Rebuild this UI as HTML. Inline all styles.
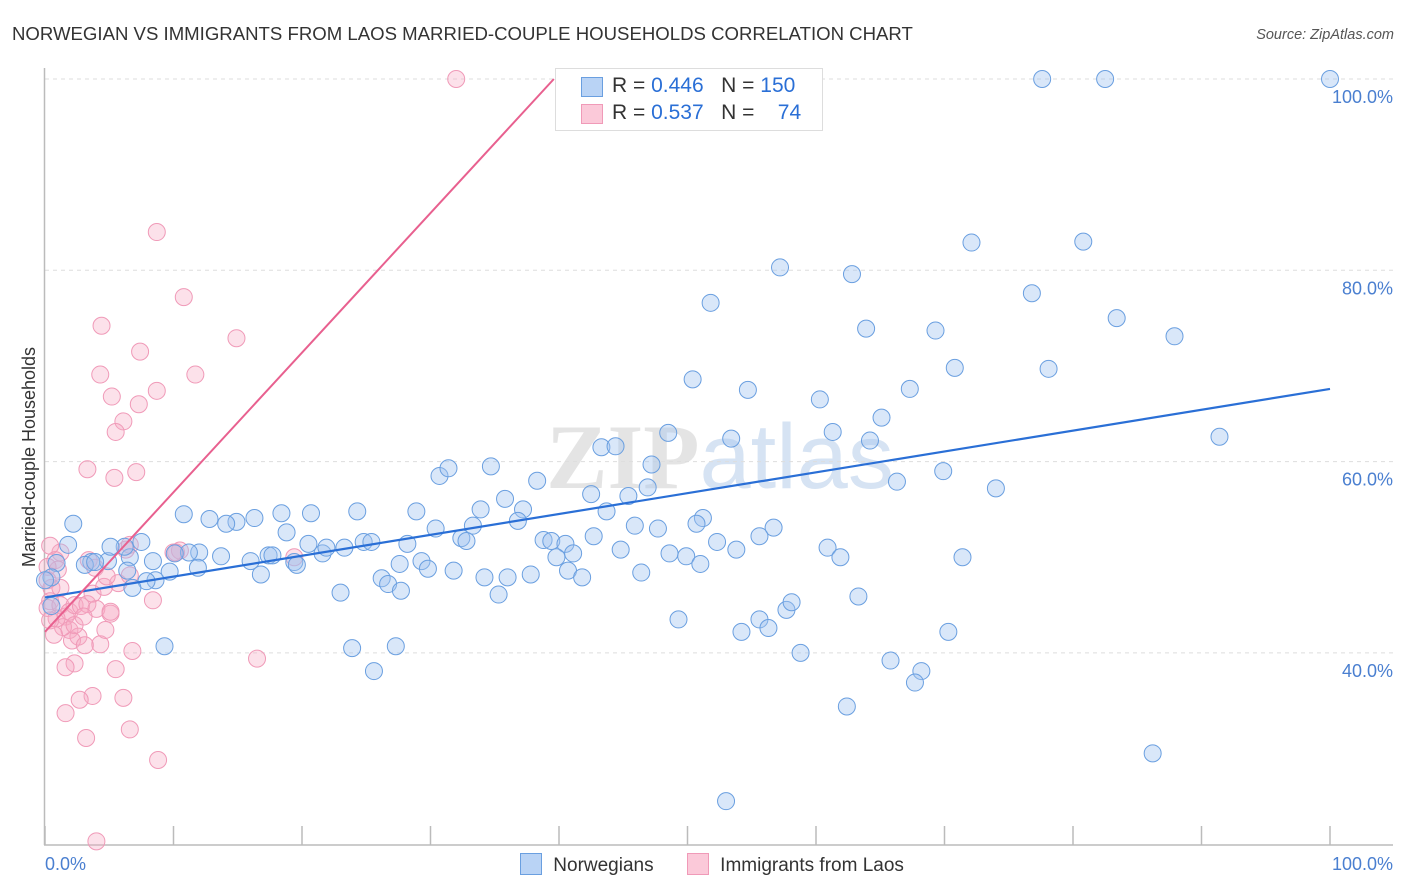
<!DOCTYPE html>
<html><head><meta charset="utf-8">
<style>
body{margin:0;background:#fff;font-family:"Liberation Sans",sans-serif;}
#wrap{position:relative;width:1406px;height:892px;overflow:hidden;}
</style></head>
<body>
<div id="wrap">
<svg id="svg" width="1406" height="892" xmlns="http://www.w3.org/2000/svg">
<text x="12" y="40" font-size="18.6" fill="#333">NORWEGIAN VS IMMIGRANTS FROM LAOS MARRIED-COUPLE HOUSEHOLDS CORRELATION CHART</text>
<text x="1394" y="39" font-size="14.5" fill="#555" font-style="italic" text-anchor="end">Source: ZipAtlas.com</text>
<text x="720" y="488" font-size="92" fill="#e4e4e4" text-anchor="middle" font-family="Liberation Serif,serif"><tspan font-weight="bold">ZIP</tspan><tspan fill="#d6e3f3" font-family="Liberation Sans,sans-serif">atlas</tspan></text>
<g id="grid"></g>
<g id="axes"></g>
<g id="pts"></g>
<g id="lines"></g>
<text transform="translate(35,457) rotate(-90)" font-size="18" fill="#333" text-anchor="middle">Married-couple Households</text>
</svg>
<div style="position:absolute;left:555px;top:68px;width:266px;height:61px;border:1px solid #ddd;background:#fff;font-size:21px;color:#333">
 <div style="position:absolute;left:25px;top:8px;width:20px;height:18px;background:#b9d3f5;border:1px solid #6a9fe0"></div>
 <div style="position:absolute;left:56px;top:5px;white-space:pre">R = <span style="color:#2a6fd6">0.446</span>   N = <span style="color:#2a6fd6">150</span></div>
 <div style="position:absolute;left:25px;top:35px;width:20px;height:18px;background:#fbc9d9;border:1px solid #f09ab8"></div>
 <div style="position:absolute;left:56px;top:32px;white-space:pre">R = <span style="color:#2a6fd6">0.537</span>   N =    <span style="color:#2a6fd6">74</span></div>
</div>
<div style="position:absolute;left:520px;top:853px;font-size:19px;color:#333;white-space:nowrap">
 <span style="display:inline-block;width:20px;height:20px;background:#b9d3f5;border:1px solid #6a9fe0;vertical-align:-4px"></span>
 <span style="margin-left:6px">Norwegians</span>
 <span style="display:inline-block;width:20px;height:20px;background:#fbc9d9;border:1px solid #f09ab8;vertical-align:-4px;margin-left:28px"></span>
 <span style="margin-left:6px">Immigrants from Laos</span>
</div>
</div>
<script>
const blueX=[77.6,82.5,100,72.1,80.8,57.2,62.8,51.8,76.8,63.9,69.3,83.4,87.9,50.4,54.7,70.8,78.1,67.3,60.3,65.1,48.5,53.4,61.3,64.2,91.4,43.3,44.4,47.2,46.9,66.3,69.9,74.0,30.7,31.4,34.7,38.3,42.5,45.4,35.8,33.9,37.2,36.8,43.7,51.2,50.7,45.9,47.7,56.7,28.9,30.4,33.3,32.4,32.8,38.8,39.4,40.5,42.7,52.3,55.6,53.8,48.6,49.9,44.8,41.1,39.8,40.7,41.8,46.4,60.9,61.9,71.4,28.2,24.3,20.7,18.4,16.3,14.9,14.1,12.8,10.8,18.8,20.5,21.6,21.9,23.3,24.8,25.4,29.3,29.8,27.6,26.2,26.7,27.7,31.8,34.2,36.0,37.8,35.3,17.4,17.7,19.4,19.6,16.0,13.7,12.0,11.2,10.1,11.9,16.8,9.7,8.6,7.9,6.6,7.5,8.4,6.4,6.8,3.6,4.9,6.2,5.1,2.2,1.8,3.1,3.9,0.9,0.5,0.5,0,23.0,23.9,25.6,27.3,9.3,49.3,54.2,55.6,56.3,57.7,58.1,58.8,63.3,65.8,68.2,67.7,70.3,62.4,86.2,53.0,51.0];
const blueY=[100,100,100,82.9,83.0,80.3,79.6,76.6,77.6,73.9,73.7,75.0,73.1,68.6,67.5,69.8,69.7,67.6,66.5,64.6,63.0,62.4,63.1,62.2,62.6,61.5,61.6,59.7,57.3,57.9,59.0,57.2,58.5,59.3,59.5,58.0,56.6,56.4,56.1,55.0,55.0,53.8,54.8,54.1,53.5,53.3,53.0,53.1,54.8,53.0,53.3,52.0,51.7,51.8,51.7,51.4,52.2,51.6,52.2,50.8,50.4,50.1,50.8,50.4,50.0,48.6,47.9,48.4,51.0,50.0,50.0,51.4,54.8,54.6,54.6,54.1,53.7,53.5,54.0,54.5,52.6,51.4,50.4,51.0,51.0,51.6,51.6,49.6,48.8,49.3,47.8,47.2,46.5,48.6,47.9,47.9,48.2,46.1,50.2,50.2,49.5,49.2,49.6,50.1,50.5,50.5,50.4,48.9,48.2,48.5,47.6,47.5,50.0,51.6,49.6,48.6,46.8,49.5,49.6,51.1,51.1,53.5,51.3,49.2,49.5,49.4,47.9,44.9,47.6,46.3,40.5,38.1,40.7,40.7,43.5,42.2,43.5,42.6,44.5,45.3,40.0,45.9,39.2,38.1,36.9,42.2,34.4,29.5,24.5,49.3];
const pinkX=[32.0,8.7,10.8,4.4,14.9,7.4,4.3,11.7,5.2,7.3,8.7,6.1,5.5,3.3,7.1,5.4,1.2,0.4,0.8,1.0,0.2,0.5,0.4,0.2,1.2,1.6,1.9,2.3,2.8,3.3,4.0,3.7,4.6,5.1,5.7,6.3,6.6,3.4,3.9,1.9,2.6,2.1,4.3,4.7,1.4,2.3,1.6,5.5,6.8,10.2,10.5,19.4,16.5,8.4,6.1,3.7,2.7,1.6,3.2,6.6,8.8,4.0,0.9,0.4,2.3,3.0,0.2,1.2,4.8,5.1,6.6,10.0,0.7,3.1];
const pinkY=[100,84.0,77.2,74.2,72.9,71.5,69.1,69.1,66.8,66.0,67.4,64.2,63.1,59.2,58.9,58.3,50.5,51.2,49.7,48.7,47.6,46.8,45.4,44.7,45.0,43.8,44.3,45.0,44.9,45.1,44.6,46.2,46.9,44.1,47.3,50.8,51.3,49.7,48.9,42.4,41.7,41.3,40.9,42.4,42.7,38.9,38.5,38.3,40.2,50.5,50.7,50.0,39.4,45.5,35.3,35.5,35.1,33.7,31.1,32.0,28.8,20.3,43.6,43.4,42.9,43.8,49.0,46.8,48.0,44.3,48.1,50.5,41.9,40.8];
const blueLine=[[0,45.8],[100,67.6]];
const pinkLine=[[0,42.2],[39.6,100]];
const yTicks=[100,80,60,40];
const yTickLabels=["100.0%","80.0%","60.0%","40.0%"];
const xTicks=[0,10,20,30,40,50,60,70,80,90,100];

const X0=45,X1=1330,YT=79,PER=191.3/20;
const sx=v=>X0+(X1-X0)*v/100;
const sy=v=>YT+(100-v)*PER;
const NS="http://www.w3.org/2000/svg";
function mk(tag,attrs,parent){const e=document.createElementNS(NS,tag);for(const k in attrs)e.setAttribute(k,attrs[k]);parent.appendChild(e);return e;}
const grid=document.getElementById('grid'),axes=document.getElementById('axes'),pts=document.getElementById('pts'),lines=document.getElementById('lines');
yTicks.forEach((t,i)=>{
 const g=mk('line',{x1:45,x2:1393,y1:sy(t),y2:sy(t),stroke:'#ddd','stroke-dasharray':'4,4'},grid);
 
 
 const l=mk('text',{x:1393,y:sy(t)+24,'font-size':18,fill:'#4a7fd0','text-anchor':'end'},axes);
 l.textContent=yTickLabels[i];
 
 
});
const ya=mk('line',{x1:44.5,x2:44.5,y1:68,y2:845,stroke:'#bbb','stroke-width':1.5},axes);


const xa=mk('line',{x1:44,x2:1393,y1:845,y2:845,stroke:'#bbb','stroke-width':1.5},axes);


xTicks.forEach(t=>{
 const k=mk('line',{x1:sx(t),x2:sx(t),y1:826,y2:845,stroke:'#bbb','stroke-width':1.5},axes);
 
 
});
const xl0=mk('text',{x:45,y:870,'font-size':18,fill:'#4a7fd0'},axes);xl0.textContent='0.0%';


const xl1=mk('text',{x:1393,y:870,'font-size':18,fill:'#4a7fd0','text-anchor':'end'},axes);xl1.textContent='100.0%';


pinkX.forEach((x,i)=>{
 const c=mk('circle',{cx:sx(x),cy:sy(pinkY[i]),r:8.5,fill:'rgba(247,170,196,0.35)',stroke:'#f09ab8','stroke-width':1},pts);
 
 
});
blueX.forEach((x,i)=>{
 const c=mk('circle',{cx:sx(x),cy:sy(blueY[i]),r:8.5,fill:'rgba(160,196,240,0.4)',stroke:'#6a9fe0','stroke-width':1},pts);
 
 
});
const bl=mk('line',{x1:sx(blueLine[0][0]),y1:sy(blueLine[0][1]),x2:sx(blueLine[1][0]),y2:sy(blueLine[1][1]),stroke:'#2a6fd6','stroke-width':2.2},lines);


const pl=mk('line',{x1:sx(pinkLine[0][0]),y1:sy(pinkLine[0][1]),x2:sx(pinkLine[1][0]),y2:sy(pinkLine[1][1]),stroke:'#e8608f','stroke-width':2},lines);


</script>
</body></html>
